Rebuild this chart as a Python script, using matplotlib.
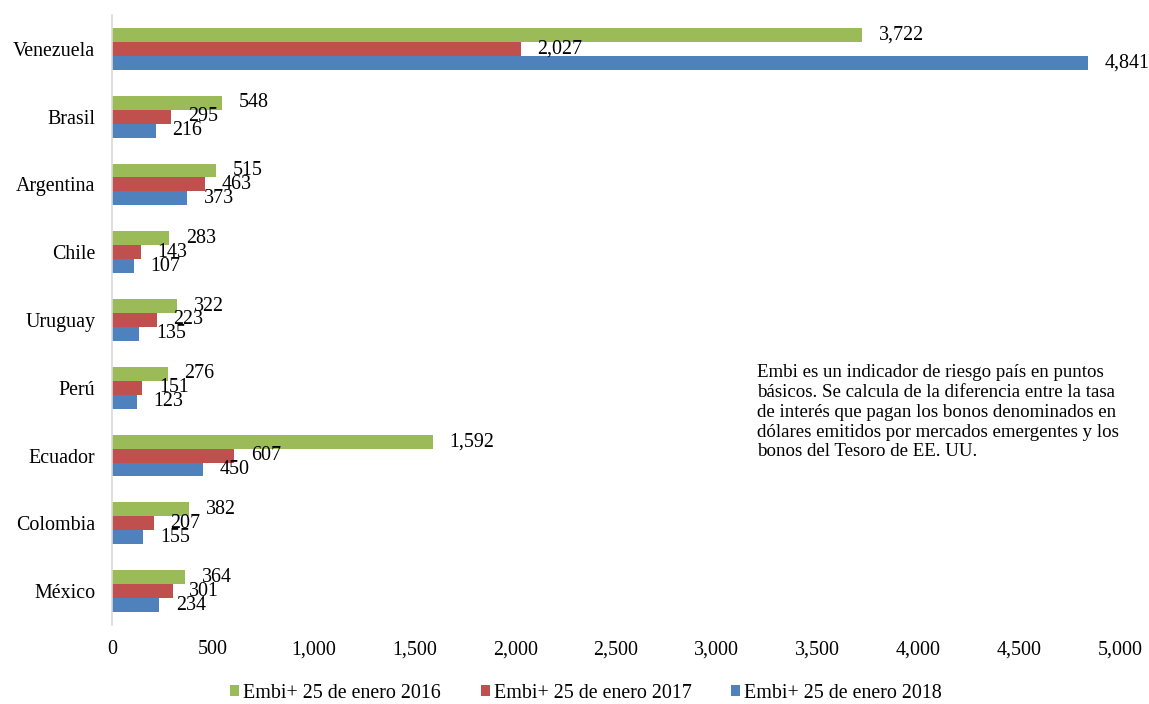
import matplotlib
matplotlib.use("Agg")
import matplotlib.pyplot as plt
from matplotlib.patches import Patch
import numpy as np

plt.rcParams['font.family'] = ['Liberation Serif', 'DejaVu Serif']

countries = ["Venezuela", "Brasil", "Argentina", "Chile", "Uruguay", "Perú", "Ecuador", "Colombia", "México"]
embi_2016 = [3722, 548, 515, 283, 322, 276, 1592, 382, 364]
embi_2017 = [2027, 295, 463, 143, 223, 151, 607, 207, 301]
embi_2018 = [4841, 216, 373, 107, 135, 123, 450, 155, 234]
series_labels = ["Embi+ 25 de enero 2016", "Embi+ 25 de enero 2017", "Embi+ 25 de enero 2018"]
colors = ["#9BBB59", "#C0504D", "#4F81BD"]
note = ("Embi es un indicador de riesgo país en puntos\n"
        "básicos. Se calcula de la diferencia entre la tasa\n"
        "de interés que pagan los bonos denominados en\n"
        "dólares emitidos por mercados emergentes y los\n"
        "bonos del Tesoro de EE. UU.")

FS = 14.4
fig = plt.figure(figsize=(11.49, 7.04), dpi=100)
ax = fig.add_axes([112/1149, 1-625/704, (1120-112)/1149, 610/704])

y = np.arange(len(countries))
h = 0.206
for k, (vals, c) in enumerate(zip([embi_2016, embi_2017, embi_2018], colors)):
    pos = y + (k - 1) * h
    ax.barh(pos, vals, height=h, color=c, edgecolor='none')
    for p, v in zip(pos, vals):
        ax.annotate(f"{v:,}", (v, p), xytext=(12, 0), textcoords='offset points',
                    va='center', ha='left', fontsize=FS)

ax.set_xlim(0, 5000)
ax.set_ylim(len(countries) - 0.5, -0.5)
ax.set_yticks(y)
ax.set_yticklabels(countries, fontsize=FS)
ax.set_xticks(np.arange(0, 5001, 500))
ax.set_xticklabels([f"{v:,}" for v in range(0, 5001, 500)], fontsize=FS)
ax.tick_params(axis='both', length=0)
ax.tick_params(axis='x', pad=11)
ax.tick_params(axis='y', pad=12)
for s in ['top', 'right', 'bottom']:
    ax.spines[s].set_visible(False)
ax.spines['left'].set_color('#D9D9D9')
ax.spines['left'].set_linewidth(1.2)

fig.text(757/1149, 1-364/704, note, fontsize=13.6, va='top', ha='left', linespacing=1.22)

handles = [Patch(facecolor=c, edgecolor='none') for c in colors]
fig.legend(handles, series_labels, loc='center', bbox_to_anchor=(586/1149, 1-693/704), ncol=3,
           frameon=False, fontsize=FS, handlelength=0.45, handleheight=0.45,
           handletextpad=0.2, columnspacing=2.0)

fig.savefig("out.png", dpi=100)
